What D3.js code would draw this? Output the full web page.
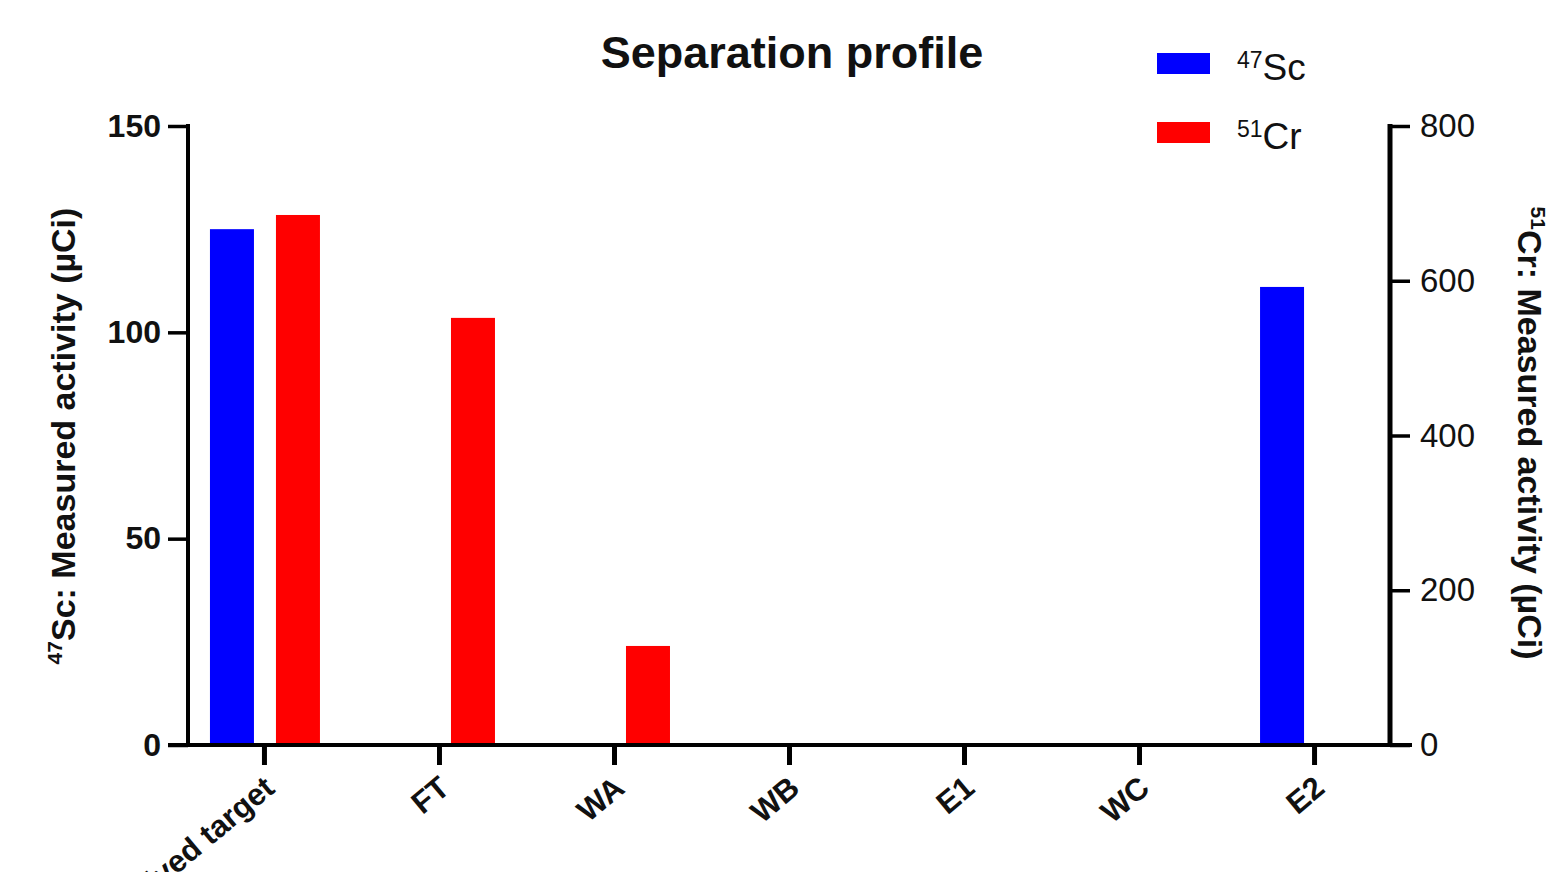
<!DOCTYPE html>
<html>
<head>
<meta charset="utf-8">
<script src="https://cdn.jsdelivr.net/npm/d3@7"></script>
<style>
  html, body { margin: 0; padding: 0; background: #fff; }
  svg { display: block; font-family: "Liberation Sans", Arial, sans-serif; }
</style>
</head>
<body>
<svg id="chart" width="1554" height="872"></svg>
<script>
// Fractions collected during the column separation
const categories = ["Dissolved target", "FT", "WA", "WB", "E1", "WC", "E2"];
// 47Sc activity (µCi), left axis
const scValues = [125, 0, 0, 0, 0, 0, 111];
// 51Cr activity (µCi), right axis
const crValues = [685, 552, 128, 0, 0, 0, 0];
const leftTicks = [0, 50, 100, 150];
const rightTicks = [0, 200, 400, 600, 800];

const svg = d3.select("#chart");
const plotLeft = 188, plotRight = 1390, plotTop = 126, plotBottom = 745;

const x = d3.scalePoint().domain(categories).range([plotLeft, plotRight]).padding(0.434);
const yL = d3.scaleLinear().domain([0, 150]).range([plotBottom, plotTop]);
const yR = d3.scaleLinear().domain([0, 800]).range([plotBottom, plotTop]);

const barW = 44, offSc = -32, offCr = 34;

// bars: 47Sc on the left scale, 51Cr on the right scale
svg.append("g").selectAll("rect").data(categories.map((c, i) => ({c, v: scValues[i]})).filter(d => d.v > 0))
  .join("rect")
  .attr("x", d => x(d.c) + offSc - barW / 2)
  .attr("y", d => yL(d.v))
  .attr("width", barW)
  .attr("height", d => plotBottom - yL(d.v))
  .attr("fill", "#0000ff");

svg.append("g").selectAll("rect").data(categories.map((c, i) => ({c, v: crValues[i]})).filter(d => d.v > 0))
  .join("rect")
  .attr("x", d => x(d.c) + offCr - barW / 2)
  .attr("y", d => yR(d.v))
  .attr("width", barW)
  .attr("height", d => plotBottom - yR(d.v))
  .attr("fill", "#ff0000");

const styleText = (sel, size, weight) => sel.attr("font-size", size).attr("font-weight", weight)
  .attr("font-family", "Liberation Sans, Arial, sans-serif").attr("fill", "#111");

// left axis
const gL = svg.append("g").attr("transform", `translate(${plotLeft},0)`)
  .call(d3.axisLeft(yL).tickValues(leftTicks).tickSize(20).tickPadding(7).tickSizeOuter(0));
gL.select(".domain").attr("stroke-width", 4).attr("d", `M0,${plotTop - 2}V${plotBottom}`);
gL.selectAll(".tick line").attr("stroke-width", 3.5);
gL.selectAll("text").call(styleText, 32, "bold");

// right axis
const gR = svg.append("g").attr("transform", `translate(${plotRight},0)`)
  .call(d3.axisRight(yR).tickValues(rightTicks).tickSize(20).tickPadding(10).tickSizeOuter(0));
gR.select(".domain").attr("stroke-width", 5).attr("d", `M0,${plotTop - 2}V${plotBottom}`);
gR.selectAll(".tick line").attr("stroke-width", 3.5);
gR.selectAll("text").call(styleText, 33, "normal");

// bottom axis
const gB = svg.append("g").attr("transform", `translate(0,${plotBottom})`)
  .call(d3.axisBottom(x).tickSize(20).tickPadding(10).tickSizeOuter(0));
gB.select(".domain").attr("stroke-width", 4).attr("d", `M${plotLeft - 20},0H${plotRight + 22}`);
gB.selectAll(".tick line").attr("stroke-width", 5);
gB.selectAll("text").call(styleText, 31, "bold")
  .attr("text-anchor", "end")
  .attr("dy", null)
  .attr("y", 0)
  .attr("transform", "translate(12,46) rotate(-40)");

// title
svg.append("text").attr("x", 792).attr("y", 68).attr("text-anchor", "middle")
  .attr("font-size", 45).attr("font-weight", "bold").attr("fill", "#111").text("Separation profile");

// legend
const legend = [
  {mass: "47", el: "Sc", color: "#0000ff", y: 53},
  {mass: "51", el: "Cr", color: "#ff0000", y: 122}
];
legend.forEach(d => {
  svg.append("rect").attr("x", 1157).attr("y", d.y).attr("width", 53).attr("height", 21).attr("fill", d.color);
  const t = svg.append("text").attr("x", 1237).attr("y", d.y + 27).attr("font-size", 37).attr("fill", "#111");
  t.append("tspan").attr("font-size", 23).attr("dy", -12).text(d.mass);
  t.append("tspan").attr("dy", 12).text(d.el);
});

// axis titles
const tl = svg.append("text").attr("transform", "translate(75,436) rotate(-90)").attr("text-anchor", "middle")
  .attr("font-size", 34).attr("font-weight", "bold").attr("fill", "#111");
tl.append("tspan").attr("font-size", 21).attr("dy", -13).text("47");
tl.append("tspan").attr("dy", 13).text("Sc: Measured activity (µCi)");

const tr = svg.append("text").attr("transform", "translate(1518,433) rotate(90)").attr("text-anchor", "middle")
  .attr("font-size", 34).attr("font-weight", "bold").attr("fill", "#111");
tr.append("tspan").attr("font-size", 21).attr("dy", -13).text("51");
tr.append("tspan").attr("dy", 13).text("Cr: Measured activity (µCi)");
</script>
</body>
</html>
